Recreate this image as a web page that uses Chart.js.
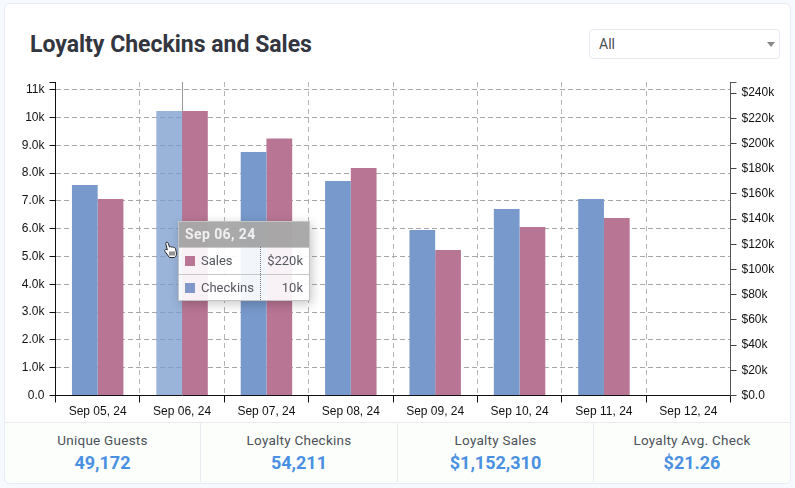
<!DOCTYPE html>
<html>
<head>
<meta charset="utf-8">
<title>Loyalty Checkins and Sales</title>
<script src="https://cdn.jsdelivr.net/npm/chart.js@4"></script>
<style>
html, body { margin: 0; padding: 0; }
body { width: 795px; height: 488px; background: #f6f9fd; position: relative; overflow: hidden; font-family: Roboto, sans-serif; }
#card { position: absolute; left: 4px; top: 3px; width: 785px; height: 479px; background: #fff; border: 1px solid #e8ecf4; border-radius: 6px; box-sizing: content-box; }
#title { position: absolute; left: 30px; top: 31px; font-size: 23px; font-weight: 700; color: #33363f; line-height: 28px; }
#filter { position: absolute; left: 589px; top: 29px; width: 189px; height: 28px; background: #fff; border: 1px solid #e6eaf5; border-radius: 4px; font-size: 14px; line-height: 28px; color: #4a4d55; text-indent: 9px; }
#filter i { position: absolute; right: 4px; top: 12px; border-left: 4px solid transparent; border-right: 4px solid transparent; border-top: 5px solid #888; }
#myChart { position: absolute; left: 0; top: 0; }
#stats { position: absolute; left: 5px; top: 422px; width: 785px; height: 60px; background: #fbfefb; border-top: 1px solid #e8ecf1; display: flex; box-sizing: border-box; border-radius: 0 0 6px 6px; }
#stats div.s { flex: none; height: 59px; text-align: center; border-right: 1px solid #e8ecf1; box-sizing: border-box; }
#stats div.s:last-child { border-right: 0; }
#stats .l { font-size: 13.5px; color: #4d5159; margin-top: 9px; line-height: 17px; letter-spacing: .25px; }
#stats .v { font-size: 18px; font-weight: 700; color: #4a90e2; line-height: 25px; margin-top: 1px; }
#tip { position: absolute; left: 178px; top: 221px; width: 132px; height: 80px; border: 1px solid #c4c4c4; box-sizing: border-box; box-shadow: 2px 3px 10px rgba(0,0,0,.22); font-size: 13px; color: #55585f; background: rgba(255,255,255,.9); }
#tip .h { height: 25px; line-height: 25px; background: rgba(130,130,130,.68); color: #f0f0f0; font-weight: 700; padding-left: 6px; font-size: 14px; letter-spacing: .4px; border-bottom: 1px solid #c8c8c8; }
#tip .r { position: relative; height: 26px; line-height: 26px; }
#tip .r + .r { border-top: 1px solid #c8c8c8; }
#tip .b { position: absolute; left: 6px; top: 8px; width: 10px; height: 10px; }
#tip .n { position: absolute; left: 22px; }
#tip .a { position: absolute; right: 6px; }
#tip .d { position: absolute; left: 81px; top: 25px; bottom: 0; border-left: 1px dotted #777; }
#hand { position: absolute; left: 163px; top: 241px; }
</style>
</head>
<body>
<div id="card"></div>
<div id="title">Loyalty Checkins and Sales</div>
<div id="filter">All<i></i></div>
<canvas id="myChart" width="795" height="488"></canvas>
<div id="stats"></div>
<div id="tip"></div>
<svg id="hand" width="16" height="20" viewBox="0 0 16 20">
  <path d="M3 1.500c1-.6 2 0 2.300 1l1.200 3.500c.8-.5 1.700-.4 2.200.2.700-.4 1.600-.2 2 .4.800-.3 1.600.2 1.800 1l.9 4.200c.3 1.900-.4 3.600-1.900 4.700H6.500L2 10.500c-.6-.8-.3-1.700.5-2 .6-.2 1.300 0 1.800.5L3 3.500c-.3-.8-.4-1.500 0-2z" fill="#fff" stroke="#222" stroke-width="1"/>
  <path d="M7 10.500v4M9 10.500v4M11 10.500v4" stroke="#222" stroke-width="1"/>
</svg>
<script>
// chart data
const dates = ['Sep 05, 24', 'Sep 06, 24', 'Sep 07, 24', 'Sep 08, 24', 'Sep 09, 24', 'Sep 10, 24', 'Sep 11, 24', 'Sep 12, 24'];
const checkins = [7570, 10230, 8760, 7720, 5950, 6710, 7070, null];
const sales = [156000, 225800, 204000, 180600, 115500, 133700, 140900, null];

const leftTicks = [0, 1000, 2000, 3000, 4000, 5000, 6000, 7000, 8000, 9000, 10000, 11000];
const leftTickLabels = ['0.0', '1.0k', '2.0k', '3.0k', '4.0k', '5.0k', '6.0k', '7.0k', '8.0k', '9.0k', '10k', '11k'];
const rightTicks = [0, 20000, 40000, 60000, 80000, 100000, 120000, 140000, 160000, 180000, 200000, 220000, 240000];
const rightTickLabels = ['$0.0', '$20k', '$40k', '$60k', '$80k', '$100k', '$120k', '$140k', '$160k', '$180k', '$200k', '$220k', '$240k'];

const statLabels = ['Unique Guests', 'Loyalty Checkins', 'Loyalty Sales', 'Loyalty Avg. Check'];
const statValues = ['49,172', '54,211', '$1,152,310', '$21.26'];
const statWidths = [196, 197, 196, 196];

const tipTitle = 'Sep 06, 24';
const tipNames = ['Sales', 'Checkins'];
const tipValues = ['$220k', '10k'];

const blue = '#7899cc';
const blueHover = 'rgba(120,153,204,.75)';
const pink = '#b87594';
const hoverIndex = 1;

// footer boxes
let statsHtml = '';
statLabels.forEach(function(label, i) {
  statsHtml += '<div class="s" style="width:' + statWidths[i] + 'px"><div class="l">' + label + '</div><div class="v">' + statValues[i] + '</div></div>';
});
document.getElementById('stats').innerHTML = statsHtml;

// tooltip box
const tipColors = [pink, '#7f97c9'];
let tipHtml = '<div class="h">' + tipTitle + '</div>';
tipNames.forEach(function(name, i) {
  tipHtml += '<div class="r"><span class="b" style="background:' + tipColors[i] + '"></span><span class="n">' + name + '</span><span class="a">' + tipValues[i] + '</span></div>';
});
document.getElementById('tip').innerHTML = tipHtml + '<div class="d"></div>';

// hover line above the bar and the end ticks of both y axes
const extras = {
  id: 'extras',
  beforeDatasetsDraw(chart) {
    const ctx = chart.ctx;
    const x = Math.round(chart.scales.x.getPixelForValue(hoverIndex)) + 0.5;
    ctx.save();
    ctx.strokeStyle = '#999';
    ctx.beginPath();
    ctx.moveTo(x, chart.chartArea.top);
    ctx.lineTo(x, chart.chartArea.bottom);
    ctx.stroke();
    ctx.restore();
  },
  afterDraw(chart) {
    const ctx = chart.ctx, a = chart.chartArea;
    ctx.save();
    ctx.strokeStyle = '#111';
    ctx.beginPath();
    ctx.moveTo(a.left - 6, a.top + 0.5);
    ctx.lineTo(a.left, a.top + 0.5);
    ctx.stroke();
    ctx.strokeStyle = '#555';
    ctx.beginPath();
    ctx.moveTo(a.right, a.top + 0.5);
    ctx.lineTo(a.right + 6, a.top + 0.5);
    ctx.stroke();
    ctx.restore();
  }
};

const tickFont = { family: "'Liberation Sans', Arial, sans-serif", size: 12 };

const config = {
  type: 'bar',
  data: {
    labels: dates,
    datasets: [{
      label: 'Checkins',
      data: checkins,
      yAxisID: 'yLeft',
      backgroundColor: dates.map(function(d, i) { return i === hoverIndex ? blueHover : blue; }),
      categoryPercentage: 0.61,
      barPercentage: 1
    }, {
      label: 'Sales',
      data: sales,
      yAxisID: 'yRight',
      backgroundColor: pink,
      categoryPercentage: 0.61,
      barPercentage: 1
    }]
  },
  plugins: [extras],
  options: {
    responsive: false,
    animation: false,
    devicePixelRatio: 1,
    layout: { padding: { top: 82, bottom: 60, left: 0, right: 0 } },
    plugins: { legend: { display: false }, tooltip: { enabled: false } },
    scales: {
      x: {
        afterFit(scale) { scale.height = 32.5; },
        border: { color: '#111', dash: [5, 4] },
        grid: { color: '#b5b5b5', tickColor: '#111', tickLength: 7, tickBorderDash: [] },
        ticks: { color: '#111', font: tickFont, padding: 2, maxRotation: 0, autoSkip: false }
      },
      yLeft: {
        position: 'left',
        min: 0,
        max: 11277,
        afterFit(scale) { scale.width = 55.5; },
        afterBuildTicks(scale) { scale.ticks = leftTicks.map(function(v) { return { value: v }; }); },
        border: { color: '#111', dash: [5, 3] },
        grid: { color: '#a8a8a8', tickColor: '#111', tickLength: 6, tickBorderDash: [] },
        ticks: {
          color: '#111', font: tickFont, padding: 5, autoSkip: false,
          callback: function(v) { return leftTickLabels[leftTicks.indexOf(v)]; }
        }
      },
      yRight: {
        position: 'right',
        min: 0,
        max: 248800,
        afterFit(scale) { scale.width = 64.5; },
        afterBuildTicks(scale) { scale.ticks = rightTicks.map(function(v) { return { value: v }; }); },
        border: { color: '#555' },
        grid: { drawOnChartArea: false, tickColor: '#444', tickLength: 6 },
        ticks: {
          color: '#111', font: tickFont, padding: 5, autoSkip: false,
          callback: function(v) { return rightTickLabels[rightTicks.indexOf(v)]; }
        }
      }
    }
  }
};

const myChart = new Chart(document.getElementById('myChart'), config);
</script>
</body>
</html>
